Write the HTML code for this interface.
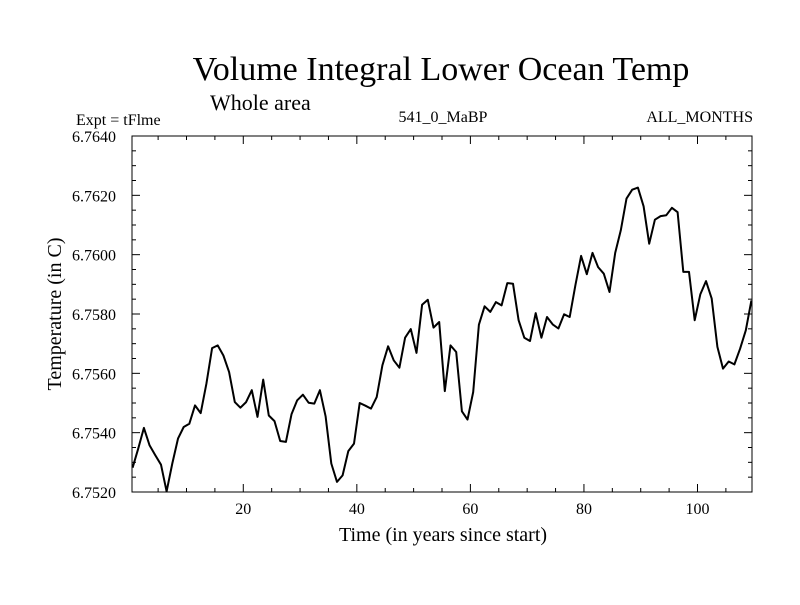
<!DOCTYPE html>
<html><head><meta charset="utf-8"><style>
body{margin:0;background:#fff;}
svg text{font-family:"Liberation Serif",serif;fill:#000;}
</style></head><body>
<svg width="800" height="600" viewBox="0 0 800 600">
<text x="441" y="80" font-size="34" text-anchor="middle">Volume Integral Lower Ocean Temp</text>
<text x="210" y="110" font-size="22">Whole area</text>
<text x="76" y="125" font-size="16">Expt = tFlme</text>
<text x="443" y="122" font-size="16" text-anchor="middle">541_0_MaBP</text>
<text x="753" y="122" font-size="16" text-anchor="end">ALL_MONTHS</text>
<text transform="translate(61,314) rotate(-90)" font-size="20" text-anchor="middle">Temperature (in C)</text>
<text x="443" y="541" font-size="20" text-anchor="middle">Time (in years since start)</text>
<g id="axes"></g>
<path id="line" fill="none" stroke="#000" stroke-width="2" stroke-linejoin="round"/>
<rect x="132" y="136" width="620" height="356" fill="none" stroke="#000" stroke-width="1"/>
</svg>
<script>
const years = Array.from({length:110},(_, i)=>i+0.5);
const values = [6.75282,6.75346,6.75416,6.75357,6.75324,6.75292,6.75202,6.75296,6.7538,6.75419,
6.7543,6.75492,6.75466,6.75565,6.75685,6.75694,6.7566,6.75604,6.75503,6.75484,
6.75503,6.75543,6.75453,6.75579,6.75458,6.75439,6.75372,6.75369,6.75462,6.75509,
6.75528,6.75501,6.75498,6.75543,6.75455,6.75296,6.75234,6.75256,6.75338,6.75363,
6.755,6.75491,6.75481,6.7552,6.75627,6.75691,6.75644,6.75619,6.7572,6.75749,
6.75669,6.75831,6.75848,6.75754,6.75773,6.7554,6.75694,6.75672,6.75472,6.75444,
6.75537,6.75764,6.75826,6.75807,6.7584,6.75829,6.75904,6.75902,6.75779,6.7572,
6.75709,6.75803,6.7572,6.7579,6.75765,6.75751,6.75799,6.7579,6.75897,6.75996,
6.75934,6.76006,6.75958,6.75936,6.75874,6.76006,6.76082,6.76189,6.76219,6.76226,
6.76163,6.76037,6.76118,6.7613,6.76133,6.76158,6.76143,6.75942,6.75942,6.75779,
6.75866,6.75911,6.75852,6.75689,6.75616,6.7564,6.7563,6.75683,6.75745,6.75846];
const xTicks = [20,40,60,80,100];
const yTicks = [6.752,6.754,6.756,6.758,6.760,6.762,6.764];
const X0=132,X1=752,Y0=492,Y1=136,XMIN=0.4,XMAX=109.6,YMIN=6.752,YMAX=6.764;
const sx=v=>X0+(v-XMIN)/(XMAX-XMIN)*(X1-X0);
const sy=v=>Y0-(v-YMIN)/(YMAX-YMIN)*(Y0-Y1);
const NS="http://www.w3.org/2000/svg";
const g=document.getElementById('axes');
function ln(x1,y1,x2,y2,name){const l=document.createElementNS(NS,'line');
l.setAttribute('x1',x1);l.setAttribute('y1',y1);l.setAttribute('x2',x2);l.setAttribute('y2',y2);
l.setAttribute('stroke','#000');l.setAttribute('stroke-width','1');


g.appendChild(l);}
function tx(x,y,s,anchor,name){const t=document.createElementNS(NS,'text');
t.setAttribute('x',x);t.setAttribute('y',y);t.setAttribute('font-size','16');t.setAttribute('text-anchor',anchor);t.textContent=s;


g.appendChild(t);}
for(let v=5;v<=XMAX;v+=5){const x=sx(v);const L=(v%20===0)?8:4;
ln(x,Y0,x,Y0-L,'x-tick');ln(x,Y1,x,Y1+L,'x-tick-top');}
xTicks.forEach(v=>tx(sx(v),514,String(v),'middle','x-tick-label'));
for(let k=0;k<=24;k++){const v=YMIN+k*0.0005;const y=sy(v);const L=(k%4===0)?8:4;
ln(X0,y,X0+L,y,'y-tick');ln(X1,y,X1-L,y,'y-tick-right');}
yTicks.forEach(v=>tx(116,sy(v)+6,v.toFixed(4),'end','y-tick-label'));
document.getElementById('line').setAttribute('d',years.map((y,i)=>(i?'L':'M')+sx(y).toFixed(1)+','+sy(values[i]).toFixed(1)).join(''));
</script>
</body></html>
